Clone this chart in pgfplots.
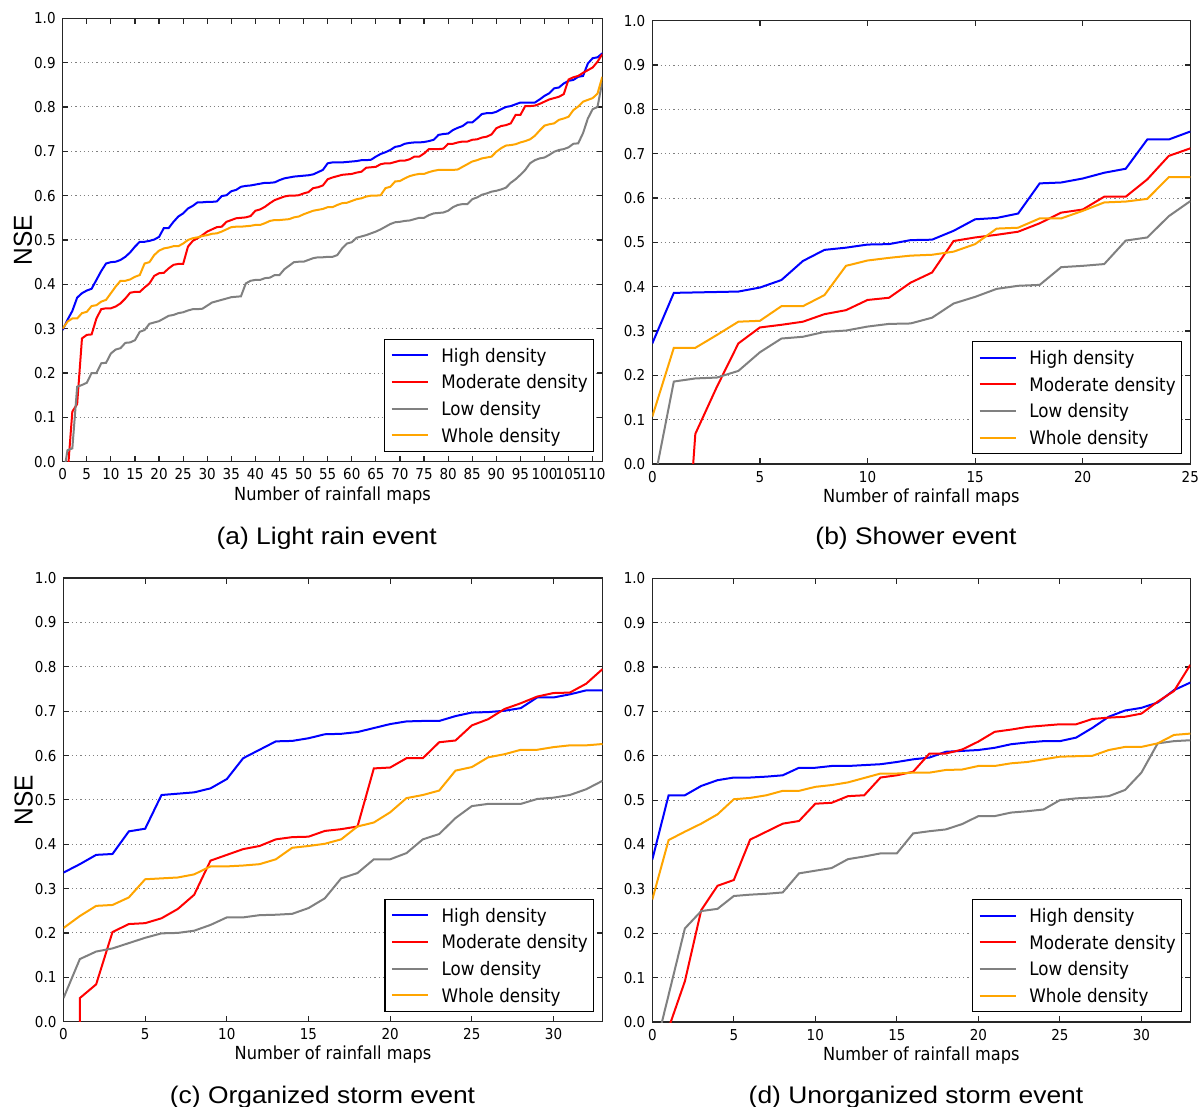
\documentclass[border=0pt]{standalone}
\usepackage{fontspec}
\setmainfont{DejaVu Sans}[FakeStretch=0.9]
\newfontfamily\capfont{Liberation Sans}[FakeStretch=1.1]
\newfontfamily\nsefont{Liberation Sans}[FakeStretch=0.94]
\usepackage{pgfplots}
\pgfplotsset{compat=1.18}
\definecolor{cHigh}{RGB}{0,0,255}
\definecolor{cMod}{RGB}{255,0,0}
\definecolor{cLow}{RGB}{128,128,128}
\definecolor{cWhole}{RGB}{255,165,0}
\pgfplotsset{
  nse/.style={
    scale only axis, anchor=north west, clip=true,
    ymin=0, ymax=1,
    ytick={0,0.1,0.2,0.3,0.4,0.5,0.6,0.7,0.8,0.9,1.0},
    yticklabels={0.0,0.1,0.2,0.3,0.4,0.5,0.6,0.7,0.8,0.9,1.0},
    /pgf/number format/assume math mode=true,
    axis line style={black!85, line width=0.7pt},
    tick style={black!85, line width=0.6pt},
    major tick length=2.8pt, tick align=inside, xtick pos=both, ytick pos=both,
    xticklabel pos=lower, yticklabel pos=left,
    ymajorgrids,
    major grid style={black!50, line width=0.5pt, dash pattern=on 0.6pt off 1.5pt},
    tick label style={font=\fontsize{7.5}{8}\selectfont},
    xticklabel style={anchor=base, yshift=-9.15pt},
    xlabel={Number of rainfall maps},
    xlabel style={font=\fontsize{9}{10}\selectfont, at={(axis description cs:0.5,-0.0864)}, anchor=base},
    legend cell align=left,
    legend image code/.code={\draw[#1, line width=1pt] (0pt,0pt) -- (18pt,0pt);},
    legend style={at={(1,0)}, anchor=south east, xshift=-4.1pt, yshift=4.85pt,
      draw=black, line width=0.6pt, fill=white,
      font=\fontsize{9.3}{11}\selectfont,
      inner xsep=2.9pt, inner ysep=1.35pt, column sep=6.4pt, row sep=0pt,
      nodes={inner sep=0pt, text height=10.07pt, text depth=3.27pt}},
    every axis plot/.append style={line width=1pt, mark=none},
  },
  nsey/.style={ylabel={NSE}, ylabel style={font=\nsefont\fontsize{13}{14}\selectfont, at={(axis description cs:-0.0739,0.5)}, anchor=center}},
}
\begin{document}
\begin{tikzpicture}
% ---------------- (a) ----------------
\begin{axis}[nse, nsey, at={(31.35pt,-9.15pt)}, width=269.8pt, height=221.7pt,
  xmin=0, xmax=112, xtick={0,5,...,110}]
\addplot[cHigh] coordinates {(0,0.297)(1,0.32)(2,0.34)(3,0.37)(4,0.38)(5,0.386)(6,0.39)(7,0.41)(8,0.43)(9,0.447)(10,0.45)(11,0.451)(12,0.455)(13,0.462)(14,0.472)(15,0.485)(16,0.496)(17,0.496)(18,0.498)(19,0.501)(20,0.507)(21,0.527)(22,0.527)(23,0.541)(24,0.553)(25,0.56)(26,0.571)(27,0.577)(28,0.585)(29,0.585)(30,0.586)(31,0.586)(32,0.587)(33,0.599)(34,0.601)(35,0.61)(36,0.613)(37,0.62)(38,0.622)(39,0.623)(40,0.625)(41,0.627)(42,0.629)(43,0.629)(44,0.63)(45,0.635)(46,0.639)(47,0.641)(48,0.643)(49,0.644)(50,0.645)(51,0.646)(52,0.648)(53,0.653)(54,0.658)(55,0.673)(56,0.675)(57,0.675)(58,0.675)(59,0.676)(60,0.677)(61,0.678)(62,0.68)(63,0.68)(64,0.681)(65,0.688)(66,0.694)(67,0.698)(68,0.703)(69,0.71)(70,0.712)(71,0.717)(72,0.719)(73,0.72)(74,0.72)(75,0.721)(76,0.723)(77,0.726)(78,0.737)(79,0.739)(80,0.74)(81,0.748)(82,0.753)(83,0.757)(84,0.765)(85,0.765)(86,0.774)(87,0.784)(88,0.786)(89,0.786)(90,0.789)(91,0.795)(92,0.8)(93,0.802)(94,0.806)(95,0.81)(96,0.81)(97,0.81)(98,0.81)(99,0.817)(100,0.825)(101,0.831)(102,0.842)(103,0.844)(104,0.853)(105,0.859)(106,0.861)(107,0.868)(108,0.87)(109,0.898)(110,0.91)(111,0.912)(112,0.921)};
\addlegendentry{High density}
\addplot[cMod] coordinates {(0,-1)(1,-0.03)(2,0.113)(3,0.13)(4,0.278)(5,0.286)(6,0.287)(7,0.323)(8,0.344)(9,0.346)(10,0.346)(11,0.35)(12,0.357)(13,0.368)(14,0.381)(15,0.383)(16,0.383)(17,0.393)(18,0.402)(19,0.419)(20,0.425)(21,0.426)(22,0.436)(23,0.444)(24,0.446)(25,0.446)(26,0.485)(27,0.498)(28,0.504)(29,0.511)(30,0.519)(31,0.524)(32,0.529)(33,0.53)(34,0.541)(35,0.545)(36,0.549)(37,0.55)(38,0.551)(39,0.554)(40,0.566)(41,0.569)(42,0.575)(43,0.583)(44,0.59)(45,0.594)(46,0.598)(47,0.6)(48,0.6)(49,0.601)(50,0.605)(51,0.608)(52,0.617)(53,0.619)(54,0.623)(55,0.637)(56,0.641)(57,0.644)(58,0.647)(59,0.648)(60,0.649)(61,0.652)(62,0.654)(63,0.663)(64,0.664)(65,0.665)(66,0.671)(67,0.673)(68,0.673)(69,0.676)(70,0.679)(71,0.679)(72,0.682)(73,0.688)(74,0.688)(75,0.695)(76,0.705)(77,0.705)(78,0.705)(79,0.706)(80,0.717)(81,0.717)(82,0.72)(83,0.722)(84,0.722)(85,0.726)(86,0.727)(87,0.731)(88,0.733)(89,0.738)(90,0.752)(91,0.757)(92,0.759)(93,0.763)(94,0.782)(95,0.782)(96,0.802)(97,0.802)(98,0.803)(99,0.807)(100,0.812)(101,0.817)(102,0.82)(103,0.823)(104,0.829)(105,0.862)(106,0.867)(107,0.87)(108,0.877)(109,0.883)(110,0.889)(111,0.902)(112,0.919)};
\addlegendentry{Moderate density}
\addplot[cLow] coordinates {(0,-0.04)(1,0.026)(2,0.03)(3,0.169)(4,0.173)(5,0.178)(6,0.2)(7,0.2)(8,0.222)(9,0.223)(10,0.244)(11,0.253)(12,0.256)(13,0.268)(14,0.269)(15,0.274)(16,0.293)(17,0.297)(18,0.311)(19,0.314)(20,0.317)(21,0.323)(22,0.329)(23,0.331)(24,0.335)(25,0.337)(26,0.341)(27,0.344)(28,0.344)(29,0.345)(30,0.352)(31,0.359)(32,0.362)(33,0.365)(34,0.368)(35,0.371)(36,0.372)(37,0.373)(38,0.402)(39,0.408)(40,0.41)(41,0.41)(42,0.414)(43,0.415)(44,0.421)(45,0.421)(46,0.434)(47,0.442)(48,0.45)(49,0.451)(50,0.451)(51,0.455)(52,0.459)(53,0.461)(54,0.461)(55,0.462)(56,0.462)(57,0.466)(58,0.481)(59,0.492)(60,0.495)(61,0.505)(62,0.508)(63,0.511)(64,0.515)(65,0.519)(66,0.524)(67,0.53)(68,0.536)(69,0.54)(70,0.541)(71,0.543)(72,0.544)(73,0.547)(74,0.55)(75,0.55)(76,0.556)(77,0.56)(78,0.561)(79,0.562)(80,0.566)(81,0.574)(82,0.579)(83,0.581)(84,0.581)(85,0.592)(86,0.596)(87,0.602)(88,0.605)(89,0.609)(90,0.611)(91,0.614)(92,0.618)(93,0.629)(94,0.637)(95,0.647)(96,0.658)(97,0.673)(98,0.68)(99,0.684)(100,0.686)(101,0.692)(102,0.699)(103,0.703)(104,0.705)(105,0.709)(106,0.717)(107,0.718)(108,0.741)(109,0.774)(110,0.795)(111,0.8)(112,0.857)};
\addlegendentry{Low density}
\addplot[cWhole] coordinates {(0,0.3)(1,0.316)(2,0.323)(3,0.323)(4,0.335)(5,0.338)(6,0.351)(7,0.353)(8,0.361)(9,0.365)(10,0.38)(11,0.395)(12,0.408)(13,0.408)(14,0.411)(15,0.417)(16,0.421)(17,0.447)(18,0.45)(19,0.466)(20,0.476)(21,0.481)(22,0.483)(23,0.486)(24,0.486)(25,0.492)(26,0.5)(27,0.504)(28,0.506)(29,0.509)(30,0.511)(31,0.514)(32,0.515)(33,0.519)(34,0.524)(35,0.529)(36,0.53)(37,0.53)(38,0.531)(39,0.532)(40,0.534)(41,0.534)(42,0.538)(43,0.543)(44,0.545)(45,0.545)(46,0.546)(47,0.547)(48,0.551)(49,0.553)(50,0.558)(51,0.562)(52,0.566)(53,0.568)(54,0.57)(55,0.574)(56,0.574)(57,0.579)(58,0.583)(59,0.584)(60,0.588)(61,0.592)(62,0.594)(63,0.598)(64,0.6)(65,0.6)(66,0.601)(67,0.617)(68,0.62)(69,0.632)(70,0.633)(71,0.639)(72,0.644)(73,0.647)(74,0.649)(75,0.649)(76,0.653)(77,0.656)(78,0.658)(79,0.658)(80,0.658)(81,0.658)(82,0.659)(83,0.665)(84,0.671)(85,0.677)(86,0.68)(87,0.684)(88,0.686)(89,0.688)(90,0.699)(91,0.707)(92,0.713)(93,0.714)(94,0.716)(95,0.72)(96,0.723)(97,0.727)(98,0.735)(99,0.747)(100,0.758)(101,0.761)(102,0.763)(103,0.771)(104,0.774)(105,0.778)(106,0.793)(107,0.801)(108,0.812)(109,0.816)(110,0.82)(111,0.83)(112,0.868)};
\addlegendentry{Whole density}
\end{axis}
% ---------------- (b) ----------------
\begin{axis}[nse, at={(326.15pt,-10.35pt)}, width=269pt, height=221.65pt,
  xmin=0, xmax=25, xtick={0,5,...,25}]
\addplot[cHigh] coordinates {(0,0.272)(1,0.386)(2,0.387)(3,0.388)(4,0.389)(5,0.398)(6,0.415)(7,0.458)(8,0.483)(9,0.488)(10,0.495)(11,0.496)(12,0.505)(13,0.506)(14,0.526)(15,0.552)(16,0.555)(17,0.565)(18,0.633)(19,0.635)(20,0.644)(21,0.657)(22,0.666)(23,0.732)(24,0.732)(25,0.75)};
\addlegendentry{High density}
\addplot[cMod] coordinates {(1,-0.61)(2,0.068)(3,0.174)(4,0.272)(5,0.308)(6,0.314)(7,0.321)(8,0.338)(9,0.347)(10,0.37)(11,0.375)(12,0.409)(13,0.432)(14,0.503)(15,0.511)(16,0.517)(17,0.524)(18,0.543)(19,0.567)(20,0.574)(21,0.603)(22,0.603)(23,0.642)(24,0.695)(25,0.712)};
\addlegendentry{Moderate density}
\addplot[cLow] coordinates {(0,-0.062)(1,0.186)(2,0.193)(3,0.195)(4,0.21)(5,0.252)(6,0.283)(7,0.287)(8,0.298)(9,0.301)(10,0.31)(11,0.316)(12,0.317)(13,0.33)(14,0.362)(15,0.377)(16,0.395)(17,0.402)(18,0.404)(19,0.444)(20,0.447)(21,0.451)(22,0.504)(23,0.511)(24,0.559)(25,0.593)};
\addlegendentry{Low density}
\addplot[cWhole] coordinates {(0,0.107)(1,0.262)(2,0.262)(3,0.291)(4,0.321)(5,0.323)(6,0.356)(7,0.356)(8,0.381)(9,0.447)(10,0.459)(11,0.465)(12,0.47)(13,0.472)(14,0.479)(15,0.496)(16,0.531)(17,0.533)(18,0.554)(19,0.554)(20,0.571)(21,0.59)(22,0.592)(23,0.598)(24,0.647)(25,0.647)};
\addlegendentry{Whole density}
\end{axis}
% ---------------- (c) ----------------
\begin{axis}[nse, nsey, at={(31.75pt,-289.15pt)}, width=269.5pt, height=221.7pt,
  xmin=0, xmax=33, xtick={0,5,...,30}]
\addplot[cHigh] coordinates {(0,0.336)(1,0.355)(2,0.376)(3,0.378)(4,0.429)(5,0.435)(6,0.511)(7,0.514)(8,0.517)(9,0.526)(10,0.547)(11,0.594)(12,0.613)(13,0.632)(14,0.633)(15,0.639)(16,0.648)(17,0.649)(18,0.653)(19,0.662)(20,0.671)(21,0.677)(22,0.678)(23,0.678)(24,0.689)(25,0.697)(26,0.698)(27,0.701)(28,0.707)(29,0.731)(30,0.731)(31,0.738)(32,0.747)(33,0.747)};
\addlegendentry{High density}
\addplot[cMod] coordinates {(0,-20)(1,0.053)(2,0.084)(3,0.202)(4,0.22)(5,0.222)(6,0.233)(7,0.254)(8,0.286)(9,0.363)(10,0.376)(11,0.389)(12,0.396)(13,0.411)(14,0.416)(15,0.417)(16,0.43)(17,0.434)(18,0.44)(19,0.571)(20,0.573)(21,0.594)(22,0.594)(23,0.63)(24,0.634)(25,0.668)(26,0.682)(27,0.705)(28,0.718)(29,0.733)(30,0.741)(31,0.742)(32,0.762)(33,0.795)};
\addlegendentry{Moderate density}
\addplot[cLow] coordinates {(0,0.053)(1,0.141)(2,0.158)(3,0.165)(4,0.177)(5,0.189)(6,0.199)(7,0.2)(8,0.205)(9,0.218)(10,0.235)(11,0.235)(12,0.24)(13,0.241)(14,0.243)(15,0.256)(16,0.278)(17,0.323)(18,0.335)(19,0.366)(20,0.366)(21,0.38)(22,0.411)(23,0.423)(24,0.459)(25,0.486)(26,0.491)(27,0.491)(28,0.491)(29,0.502)(30,0.505)(31,0.511)(32,0.524)(33,0.543)};
\addlegendentry{Low density}
\addplot[cWhole] coordinates {(0,0.211)(1,0.238)(2,0.261)(3,0.263)(4,0.28)(5,0.321)(6,0.323)(7,0.325)(8,0.332)(9,0.35)(10,0.35)(11,0.352)(12,0.355)(13,0.366)(14,0.392)(15,0.396)(16,0.401)(17,0.411)(18,0.44)(19,0.449)(20,0.472)(21,0.504)(22,0.511)(23,0.521)(24,0.566)(25,0.574)(26,0.596)(27,0.603)(28,0.613)(29,0.613)(30,0.619)(31,0.623)(32,0.623)(33,0.626)};
\addlegendentry{Whole density}
\end{axis}
% ---------------- (d) ----------------
\begin{axis}[nse, at={(326.15pt,-289.15pt)}, width=269pt, height=221.85pt,
  xmin=0, xmax=33, xtick={0,5,...,30}]
\addplot[cHigh] coordinates {(0,0.366)(1,0.511)(2,0.511)(3,0.532)(4,0.545)(5,0.551)(6,0.551)(7,0.553)(8,0.556)(9,0.573)(10,0.573)(11,0.577)(12,0.577)(13,0.579)(14,0.581)(15,0.586)(16,0.592)(17,0.596)(18,0.609)(19,0.611)(20,0.613)(21,0.618)(22,0.626)(23,0.63)(24,0.633)(25,0.633)(26,0.641)(27,0.663)(28,0.688)(29,0.702)(30,0.708)(31,0.72)(32,0.748)(33,0.765)};
\addlegendentry{High density}
\addplot[cMod] coordinates {(0,-0.5)(1,-0.014)(2,0.092)(3,0.252)(4,0.307)(5,0.32)(6,0.411)(7,0.429)(8,0.447)(9,0.453)(10,0.492)(11,0.494)(12,0.509)(13,0.511)(14,0.551)(15,0.556)(16,0.564)(17,0.605)(18,0.605)(19,0.614)(20,0.632)(21,0.654)(22,0.659)(23,0.665)(24,0.668)(25,0.671)(26,0.671)(27,0.683)(28,0.686)(29,0.688)(30,0.695)(31,0.722)(32,0.746)(33,0.805)};
\addlegendentry{Moderate density}
\addplot[cLow] coordinates {(0,-0.088)(1,0.061)(2,0.211)(3,0.25)(4,0.255)(5,0.284)(6,0.287)(7,0.289)(8,0.292)(9,0.335)(10,0.341)(11,0.347)(12,0.367)(13,0.373)(14,0.38)(15,0.38)(16,0.425)(17,0.43)(18,0.434)(19,0.446)(20,0.464)(21,0.464)(22,0.472)(23,0.475)(24,0.479)(25,0.5)(26,0.504)(27,0.506)(28,0.509)(29,0.523)(30,0.562)(31,0.628)(32,0.633)(33,0.635)};
\addlegendentry{Low density}
\addplot[cWhole] coordinates {(0,0.276)(1,0.41)(2,0.429)(3,0.447)(4,0.468)(5,0.502)(6,0.505)(7,0.511)(8,0.521)(9,0.521)(10,0.53)(11,0.534)(12,0.54)(13,0.55)(14,0.56)(15,0.56)(16,0.562)(17,0.562)(18,0.568)(19,0.569)(20,0.577)(21,0.577)(22,0.583)(23,0.586)(24,0.592)(25,0.598)(26,0.599)(27,0.6)(28,0.613)(29,0.62)(30,0.62)(31,0.628)(32,0.647)(33,0.65)};
\addlegendentry{Whole density}
\end{axis}
% ---------------- captions ----------------
\node[font=\capfont\fontsize{12}{14}\selectfont, anchor=base] at (163.35pt,-272pt) {(a) Light rain event};
\node[font=\capfont\fontsize{12}{14}\selectfont, anchor=base] at (458pt,-272pt) {(b) Shower event};
\node[font=\capfont\fontsize{12}{14}\selectfont, anchor=base] at (161.25pt,-551.75pt) {(c) Organized storm event};
\node[font=\capfont\fontsize{12}{14}\selectfont, anchor=base] at (458pt,-551.75pt) {(d) Unorganized storm event};
\pgfresetboundingbox
\useasboundingbox (0,0) rectangle (600pt,-553.5pt);
\end{tikzpicture}
\end{document}
